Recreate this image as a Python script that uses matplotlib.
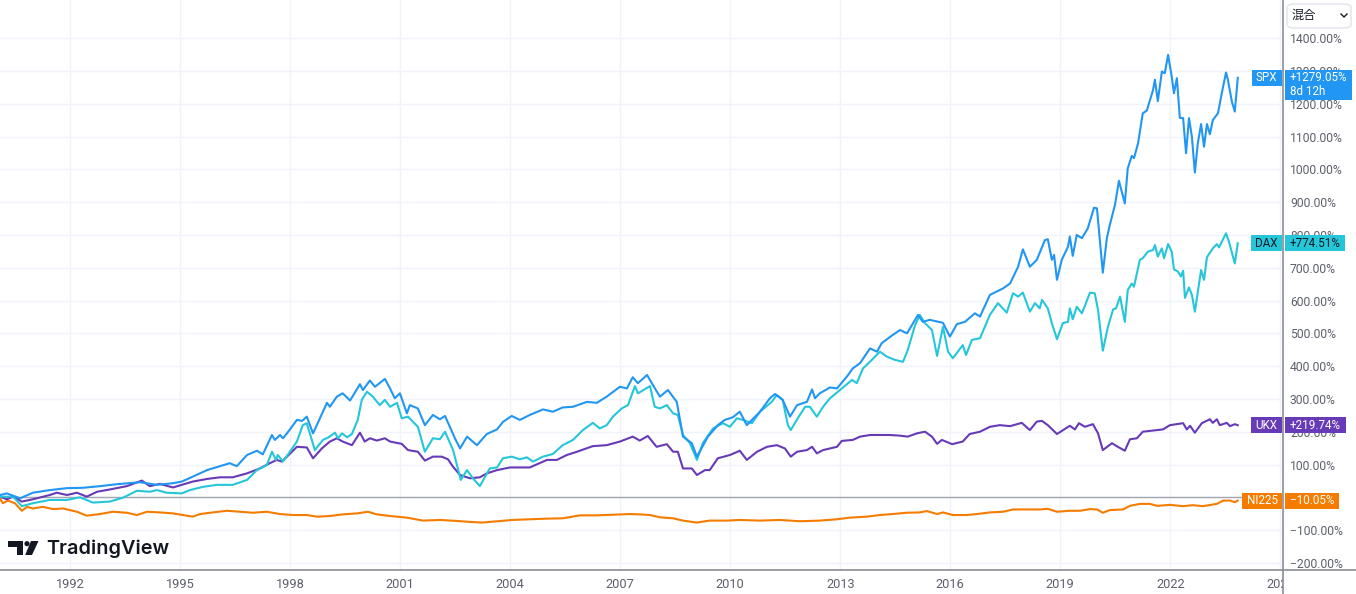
import matplotlib
matplotlib.use("Agg")
import matplotlib.pyplot as plt
from matplotlib.transforms import Bbox, TransformedBbox, IdentityTransform
from matplotlib.patches import FancyBboxPatch, Polygon, Circle, Rectangle
from matplotlib.lines import Line2D

plt.rcParams['font.family'] = ['Roboto', 'DejaVu Sans']

# ---------------- data (decimal year, % change) ----------------
spx_t = [1990.08,1990.27,1990.63,1990.98,1991.44,1991.91,1992.34,1992.81,1993.27,1993.90,1994.36,1994.80,1995.04,1995.34,1995.73,
         1996.08,1996.35,1996.54,1996.82,1997.09,1997.25,1997.50,1997.58,1997.72,1997.80,1997.91,1998.18,1998.32,1998.45,1998.62,
         1999.00,1999.08,1999.27,1999.43,1999.63,1999.90,1999.98,2000.17,2000.31,2000.58,2000.72,2000.85,2000.99,2001.18,2001.26,
         2001.48,2001.67,2001.89,2002.08,2002.22,2002.49,2002.63,2002.82,2003.09,2003.36,2003.64,2003.80,2004.04,2004.26,2004.53,
         2004.89,2005.16,2005.43,2005.71,2006.09,2006.36,2006.63,2006.99,2007.18,2007.34,2007.48,2007.73,2007.86,2008.08,2008.30,
         2008.54,2008.71,2008.95,2009.09,2009.39,2009.66,2009.85,2010.07,2010.26,2010.45,2010.59,2010.81,2011.08,2011.22,2011.43,
         2011.63,2011.82,2012.09,2012.23,2012.31,2012.44,2012.72,2012.91,2013.18,2013.34,2013.54,2013.81,2014.00,2014.13,2014.43,
         2014.63,2014.82,2015.12,2015.25,2015.44,2015.80,2015.99,2016.18,2016.40,2016.67,2016.81,2017.08,2017.44,2017.63,2017.85,
         2017.98,2018.17,2018.36,2018.58,2018.66,2018.77,2018.83,2018.91,2019.04,2019.21,2019.26,2019.34,2019.45,2019.59,2019.75,
         2019.92,2020.00,2020.16,2020.27,2020.35,2020.49,2020.60,2020.71,2020.76,2020.84,2020.95,2021.01,2021.12,2021.25,2021.36,
         2021.53,2021.58,2021.66,2021.77,2021.85,2021.94,2022.04,2022.10,2022.18,2022.26,2022.35,2022.43,2022.51,2022.59,2022.67,
         2022.75,2022.84,2022.92,2023.00,2023.08,2023.16,2023.30,2023.44,2023.52,2023.57,2023.68,2023.76,2023.84]
spx_v = [7,12,-3,14,22,28,29,34,40,46,38,43,48,63,83,
         95,104,95,129,142,131,190,175,190,180,195,236,233,246,195,
         288,276,307,317,295,345,327,356,337,361,332,302,317,256,281,
         271,220,251,238,248,180,149,185,159,193,207,230,248,236,251,
         268,261,274,276,291,288,307,337,332,366,348,373,348,307,327,
         291,185,165,124,185,220,236,244,261,220,236,261,302,315,297,
         246,281,291,329,302,317,335,332,368,393,409,454,444,470,495,
         510,500,556,535,541,532,490,528,535,561,551,617,637,652,703,
         756,703,724,784,787,724,739,663,724,764,795,736,800,790,820,
         883,881,685,790,830,891,965,917,896,1003,1041,1034,1079,1171,1179,
         1242,1273,1208,1298,1293,1349,1282,1232,1278,1157,1156,1049,1156,1099,990,
         1079,1138,1069,1138,1107,1150,1171,1252,1295,1274,1206,1176,1279.05]

dax_t = [1990.08,1990.44,1990.68,1990.98,1991.44,1991.91,1992.26,1992.62,1993.08,1993.44,1993.82,1994.17,1994.36,1994.63,1995.04,
         1995.26,1995.62,1996.00,1996.43,1996.82,1997.09,1997.36,1997.50,1997.61,1997.66,1997.80,1997.99,1998.18,1998.34,1998.45,
         1998.67,1998.89,1999.03,1999.22,1999.30,1999.41,1999.55,1999.68,1999.84,1999.95,2000.09,2000.25,2000.44,2000.58,2000.72,
         2000.91,2001.04,2001.21,2001.48,2001.67,2001.89,2002.08,2002.22,2002.44,2002.65,2002.82,2002.98,2003.17,2003.44,2003.64,
         2003.80,2004.04,2004.26,2004.45,2004.62,2004.89,2005.16,2005.43,2005.71,2005.98,2006.25,2006.44,2006.63,2006.80,2007.04,
         2007.21,2007.40,2007.48,2007.81,2007.94,2008.08,2008.27,2008.44,2008.57,2008.71,2008.90,2009.09,2009.25,2009.53,2009.80,
         2009.99,2010.18,2010.34,2010.59,2010.81,2011.13,2011.27,2011.43,2011.57,2011.65,2011.84,2012.04,2012.17,2012.36,2012.53,
         2012.72,2012.99,2013.32,2013.45,2013.62,2013.86,2014.08,2014.27,2014.49,2014.71,2014.84,2015.04,2015.17,2015.31,2015.50,
         2015.64,2015.80,2015.94,2016.07,2016.34,2016.43,2016.59,2016.81,2017.08,2017.30,2017.54,2017.71,2017.85,2017.98,2018.17,
         2018.31,2018.44,2018.50,2018.66,2018.77,2018.91,2019.07,2019.21,2019.26,2019.34,2019.45,2019.59,2019.81,2019.94,2020.03,
         2020.16,2020.30,2020.44,2020.52,2020.63,2020.76,2020.84,2020.95,2021.01,2021.17,2021.25,2021.39,2021.53,2021.58,2021.66,
         2021.77,2021.83,2021.94,2022.04,2022.10,2022.21,2022.29,2022.35,2022.40,2022.51,2022.59,2022.67,2022.84,2022.92,2023.00,
         2023.16,2023.27,2023.33,2023.52,2023.60,2023.76,2023.84]
dax_v = [2,2,-27,-18,-8,-8,0,-16,-13,-1,20,17,22,14,12,
         22,32,38,38,53,83,98,139,114,129,109,139,170,220,226,
         144,175,182,197,180,195,183,193,236,297,322,307,281,297,276,
         288,241,246,215,139,180,177,200,144,53,83,58,34,88,91,
         119,124,116,122,109,124,132,159,175,205,227,210,220,246,271,
         281,339,317,339,276,271,281,256,251,190,165,114,165,210,226,
         215,241,236,226,261,291,312,297,220,205,241,276,276,246,276,
         302,327,358,348,393,419,444,429,419,413,449,525,556,531,510,
         431,520,444,424,464,434,480,485,556,592,563,622,612,624,566,
         592,576,602,576,531,482,531,535,576,543,581,561,624,622,571,
         447,520,573,576,612,535,632,652,642,724,729,749,754,769,734,
         759,729,772,749,695,688,673,691,608,640,617,566,693,663,732,
         759,772,762,805,779,713,774.51]

ukx_t = [1990.08,1990.27,1990.44,1990.68,1990.98,1991.44,1991.63,1991.91,1992.18,1992.45,1992.73,1993.08,1993.54,1993.95,1994.17,
         1994.44,1994.80,1995.04,1995.34,1995.73,1996.08,1996.43,1996.82,1997.17,1997.44,1997.63,1997.77,1997.91,1998.18,1998.45,
         1998.62,1998.86,1999.08,1999.27,1999.43,1999.68,1999.90,2000.03,2000.17,2000.36,2000.58,2000.72,2001.04,2001.21,2001.48,
         2001.67,2001.89,2002.13,2002.30,2002.44,2002.63,2002.90,2003.17,2003.36,2003.64,2003.99,2004.53,2005.00,2005.27,2005.54,
         2005.82,2006.25,2006.63,2006.99,2007.34,2007.53,2007.75,2007.99,2008.27,2008.44,2008.57,2008.71,2008.95,2009.09,2009.31,
         2009.44,2009.66,2009.99,2010.26,2010.45,2010.73,2011.00,2011.27,2011.49,2011.65,2011.82,2012.09,2012.23,2012.36,2012.53,
         2012.91,2013.04,2013.34,2013.54,2013.81,2014.08,2014.35,2014.63,2014.84,2015.09,2015.31,2015.50,2015.64,2015.77,2016.05,
         2016.34,2016.53,2016.81,2017.08,2017.35,2017.63,2017.95,2018.17,2018.36,2018.50,2018.66,2018.91,2019.26,2019.40,2019.51,
         2019.67,2019.89,2020.03,2020.16,2020.41,2020.57,2020.76,2020.90,2021.09,2021.25,2021.64,2021.80,2021.99,2022.35,2022.45,
         2022.54,2022.67,2022.86,2023.08,2023.16,2023.27,2023.35,2023.54,2023.63,2023.76,2023.84]
ukx_v = [2,-6,2,-13,-6,7,14,7,14,2,17,24,34,51,34,
         41,30,38,48,56,61,61,73,88,104,114,109,124,154,152,
         119,149,170,180,170,159,197,170,180,173,180,170,163,144,139,
         112,124,124,116,93,68,58,61,73,83,91,91,114,114,129,
         139,156,159,170,185,173,187,154,162,139,139,88,88,68,83,
         83,119,129,142,114,139,154,159,149,124,139,144,154,134,144,
         154,172,175,185,190,190,190,188,185,195,200,185,163,175,162,
         170,193,200,215,220,217,227,205,231,233,220,193,218,207,226,
         215,223,195,144,165,154,142,177,180,200,205,207,220,226,207,
         218,197,226,238,227,238,220,227,217,223,219.74]

ni_t = [1990.08,1990.16,1990.30,1990.49,1990.68,1990.82,1990.98,1991.25,1991.53,1991.80,1992.18,1992.45,1992.81,1993.16,1993.54,
        1993.82,1994.09,1994.44,1994.80,1995.07,1995.34,1995.54,1995.89,1996.27,1996.63,1996.98,1997.36,1997.72,1998.07,1998.45,
        1998.73,1999.08,1999.43,1999.82,2000.12,2000.36,2000.72,2001.18,2001.62,2002.08,2002.54,2002.90,2003.23,2003.64,2004.07,
        2004.53,2005.00,2005.43,2005.90,2006.36,2006.80,2007.26,2007.53,2007.81,2008.08,2008.44,2008.71,2009.09,2009.44,2009.91,
        2010.26,2010.81,2011.35,2011.90,2012.44,2012.91,2013.26,2013.72,2014.08,2014.43,2014.82,2015.17,2015.36,2015.64,2015.80,
        2016.07,2016.45,2016.73,2017.08,2017.44,2017.71,2018.09,2018.44,2018.66,2018.91,2019.26,2019.54,2019.81,2020.00,2020.16,
        2020.35,2020.71,2020.90,2021.17,2021.44,2021.64,2021.99,2022.35,2022.62,2022.89,2023.27,2023.44,2023.63,2023.76,2023.84]
ni_v = [-3,-18,-10,-18,-41,-29,-34,-29,-36,-34,-44,-56,-51,-44,-47,
        -54,-44,-46,-49,-54,-59,-51,-46,-41,-44,-47,-44,-51,-54,-54,
        -59,-57,-52,-49,-44,-52,-57,-62,-71,-69,-72,-75,-77,-73,-69,
        -67,-65,-64,-55,-55,-53,-51,-52,-54,-61,-64,-71,-77,-71,-71,
        -69,-71,-69,-73,-71,-67,-62,-59,-54,-51,-47,-46,-42,-51,-46,
        -54,-54,-51,-46,-44,-37,-37,-37,-35,-44,-41,-41,-36,-37,-47,
        -39,-37,-26,-20,-20,-26,-23,-27,-24,-27,-20,-10,-10,-15,-10.05]

series_names = ["NI225", "UKX", "DAX", "SPX"]
series_colors = ["#f57c00", "#673ab7", "#26c6da", "#2196f3"]
label_text_colors = ["white", "white", "#131722", "white"]
series_data = [(ni_t, ni_v), (ukx_t, ukx_v), (dax_t, dax_v), (spx_t, spx_v)]
spx_extra = "8d 12h"

year_ticks = [1992, 1995, 1998, 2001, 2004, 2007, 2010, 2013, 2016, 2019, 2022, 2025]
pct_ticks = list(range(-200, 1401, 100))

# ---------------- figure ----------------
W, H = 1356, 594
fig = plt.figure(figsize=(W / 100, H / 100), dpi=100)
ax_right = 1283 / W
ax_bottom = (H - 570) / H
ax = fig.add_axes([0, ax_bottom, ax_right, 570 / H])
ax.set_xlim(1990.083, 2025.074)
ax.set_ylim(-221.6, 1516.2)
ax.set_axisbelow(True)

grid_c = "#f0f3fa"
for sp in ax.spines.values():
    sp.set_visible(False)
ax.set_xticks(year_ticks)
ax.set_xticklabels([str(y) for y in year_ticks])
ax.set_yticks(pct_ticks)
ax.set_yticklabels([(f"{v:.2f}%" if v >= 0 else "\u2212" + f"{-v:.2f}%") for v in pct_ticks])
ax.yaxis.tick_right()
ax.grid(True, color=grid_c, lw=1)
txt_c = "#5d606b"
ax.tick_params(axis="y", length=0, pad=5, labelsize=8.7, labelcolor=txt_c)
ax.tick_params(axis="x", length=0, pad=6, labelsize=9.2, labelcolor=txt_c)

# zero baseline
ax.axhline(0, color="#a3a6af", lw=1, zorder=1)

for (t, v), c in zip(series_data, series_colors):
    ax.plot(t, v, color=c, lw=1.5, solid_joinstyle="round", zorder=2)

# clip year labels at the price scale
fig.canvas.draw()
renderer = fig.canvas.get_renderer()
clipbox = TransformedBbox(Bbox([[0, 0], [ax_right, 1]]), fig.transFigure)
for tk in ax.xaxis.get_major_ticks():
    tk.label1.set_clip_box(clipbox)
    tk.label1.set_clip_on(True)

# axis frame lines (full width / height)
line_c = "#8a8d96"
fig.add_artist(Line2D([0, 1], [ax_bottom, ax_bottom], transform=fig.transFigure, color=line_c, lw=1.2))
fig.add_artist(Line2D([ax_right, ax_right], [0, 1], transform=fig.transFigure, color=line_c, lw=1.2))

# last-value labels (pixel-based boxes)
ident = IdentityTransform()
name_right = 1282
val_left = 1284.5
padx = 4.5
half_h = 8
lab_fs = 8.4
for (t, v), name, c, tc in zip(series_data, series_names, series_colors, label_text_colors):
    last = v[-1]
    yd = ax.transData.transform((2000, last))[1]
    sign = "+" if last >= 0 else "\u2212"
    val = f"{sign}{abs(last):.2f}%"
    tn = fig.text(name_right - padx, yd, name, transform=ident, ha="right", va="center",
                  fontsize=lab_fs, color=tc, zorder=6)
    wn = tn.get_window_extent(renderer).width
    fig.add_artist(Rectangle((name_right - wn - 2 * padx, yd - half_h), wn + 2 * padx, 2 * half_h,
                             transform=ident, fc=c, ec="none", zorder=5))
    tv = fig.text(val_left + padx + 1, yd, val, transform=ident, ha="left", va="center",
                  fontsize=lab_fs, color=tc, zorder=6)
    wv = tv.get_window_extent(renderer).width
    extra_h = 0
    if name == "SPX":
        fig.text(val_left + padx + 1, yd - 14, spx_extra, transform=ident, ha="left", va="center",
                 fontsize=lab_fs, color=tc, zorder=6)
        extra_h = 14
    fig.add_artist(Rectangle((val_left, yd - half_h - extra_h), wv + 2 * padx + 1, 2 * half_h + extra_h,
                             transform=ident, fc=c, ec="none", zorder=5))

# dropdown "混合"
box = FancyBboxPatch((1287 / W, (H - 28) / H), 64 / W, 24 / H, boxstyle="round,pad=0,rounding_size=0.006",
                     transform=fig.transFigure, fc="white", ec="#e0e3eb", lw=1)
fig.add_artist(box)
fig.text(1292 / W, (H - 15.5) / H, "混合", family=["Noto Sans CJK JP", "DejaVu Sans"], fontsize=8.8,
         color="#131722", va="center", ha="left")
fig.add_artist(Line2D([1341 / W, 1344 / W, 1347 / W], [(H - 14) / H, (H - 17) / H, (H - 14) / H],
                      transform=fig.transFigure, color="#131722", lw=1))

# TradingView logo
lax = fig.add_axes([8 / W, (H - 555) / H, 31 / W, 14 / H])
lax.set_xlim(0, 31)
lax.set_ylim(0, 14)
lax.axis("off")
logo_c = "#131722"
lax.add_patch(Polygon([(0.3, 8.3), (15.3, 8.3), (15.3, 0), (8.7, 0), (8.7, 8.3), (0.3, 8.3), (0.3, 14), (15.3, 14), (15.3, 8.3)],
                      closed=True, fc=logo_c, ec="none"))
lax.add_patch(Circle((19, 11.3), 2.6, fc=logo_c, ec="none"))
lax.add_patch(Polygon([(23.0, 14), (30.5, 14), (24.0, 0), (17.2, 0)], closed=True, fc=logo_c, ec="none"))
fig.text(46 / W, (H - 554) / H, "TradingView", fontsize=14.3, fontweight="semibold", color=logo_c,
         family=["Inter", "DejaVu Sans"], va="baseline", ha="left")

fig.savefig("out.png", dpi=100)
